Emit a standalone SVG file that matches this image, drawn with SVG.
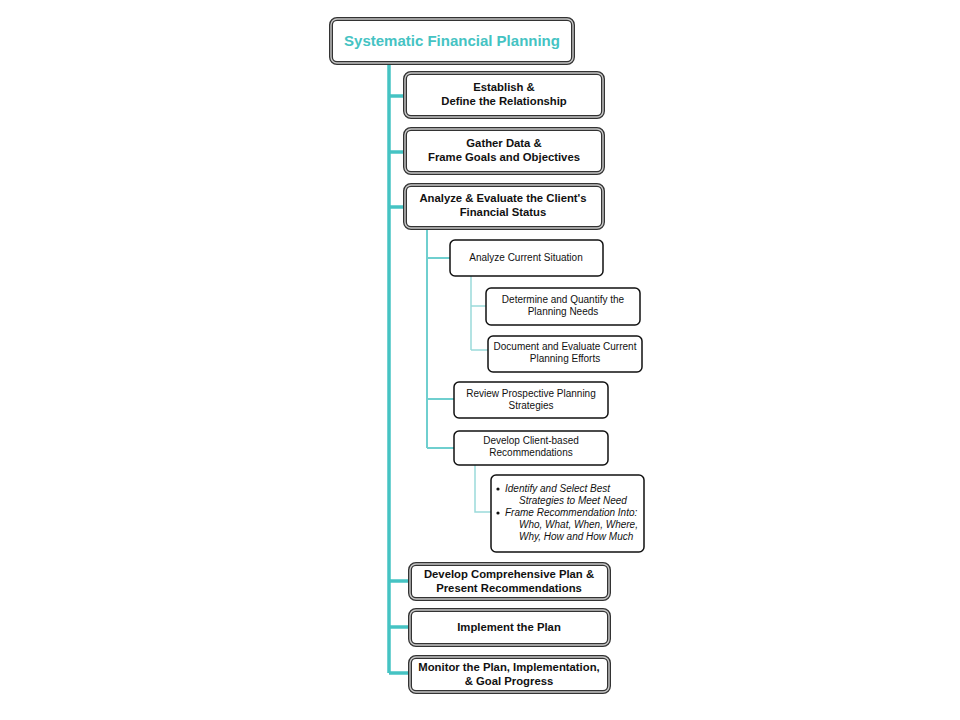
<svg xmlns="http://www.w3.org/2000/svg" width="960" height="720" viewBox="0 0 960 720">
<style>
.dbl{fill:#fff;stroke:#333;stroke-width:4}
.dbl2{fill:none;stroke:#c8c8c8;stroke-width:1.4}
.sgl{fill:#fff;stroke:#111;stroke-width:1.5}
.tb{font-family:"Liberation Sans",Arial,sans-serif;font-weight:bold;font-size:11.3px;fill:#111;text-anchor:middle}
.tr{font-family:"Liberation Sans",Arial,sans-serif;font-size:10px;fill:#111;text-anchor:middle}
.ti{font-family:"Liberation Sans",Arial,sans-serif;font-size:10px;font-style:italic;fill:#111}
.title{font-family:"Liberation Sans",Arial,sans-serif;font-weight:bold;font-size:15px;fill:#45c3c3;text-anchor:middle}
.main{stroke:#45c3c3;stroke-width:3.5;fill:none}
.sub{stroke:#6fcfcf;stroke-width:2;fill:none}
.sub2{stroke:#9adada;stroke-width:1.5;fill:none}
</style>
<rect width="960" height="720" fill="#fff"/>
<g id="connectors">
<path class="main" d="M389 63 V673 M389 96 H405 M389 152 H405 M389 207 H405 M389 581 H410 M389 627 H410 M389 673 H410"/>
<path class="sub" d="M427 228 V448 M427 258 H450 M427 399 H454 M427 448 H454"/>
<path class="sub2" d="M471 276 V350 M471 306 H486 M471 350 H488 M475 465 V512 H491"/>
</g>
<g id="n0">
<rect class="dbl" x="331" y="19" width="242" height="44" rx="6"/>
<rect class="dbl2" x="331" y="19" width="242" height="44" rx="6"/>
<text class="title" x="452" y="46">Systematic Financial Planning</text>
</g>
<g id="n1">
<rect class="dbl" x="405" y="73" width="198" height="44" rx="6"/>
<rect class="dbl2" x="405" y="73" width="198" height="44" rx="6"/>
<text class="tb" x="504" y="91">Establish &amp;</text>
<text class="tb" x="504" y="105">Define the Relationship</text>
</g>
<g id="n2">
<rect class="dbl" x="405" y="129" width="198" height="44" rx="6"/>
<rect class="dbl2" x="405" y="129" width="198" height="44" rx="6"/>
<text class="tb" x="504" y="147">Gather Data &amp;</text>
<text class="tb" x="504" y="161">Frame Goals and Objectives</text>
</g>
<g id="n3">
<rect class="dbl" x="405" y="185" width="198" height="43" rx="6"/>
<rect class="dbl2" x="405" y="185" width="198" height="43" rx="6"/>
<text class="tb" x="503" y="202">Analyze &amp; Evaluate the Client's</text>
<text class="tb" x="503" y="216">Financial Status</text>
</g>
<g id="n4">
<rect class="sgl" x="450" y="240" width="153" height="36" rx="5"/>
<text class="tr" x="526" y="261">Analyze Current Situation</text>
</g>
<g id="n5">
<rect class="sgl" x="486" y="288" width="154" height="37" rx="5"/>
<text class="tr" x="563" y="303">Determine and Quantify the</text>
<text class="tr" x="563" y="315">Planning Needs</text>
</g>
<g id="n6">
<rect class="sgl" x="488" y="336" width="154" height="36" rx="5"/>
<text class="tr" x="565" y="350">Document and Evaluate Current</text>
<text class="tr" x="565" y="362">Planning Efforts</text>
</g>
<g id="n7">
<rect class="sgl" x="454" y="382" width="154" height="36" rx="5"/>
<text class="tr" x="531" y="397">Review Prospective Planning</text>
<text class="tr" x="531" y="409">Strategies</text>
</g>
<g id="n8">
<rect class="sgl" x="454" y="431" width="154" height="34" rx="5"/>
<text class="tr" x="531" y="444">Develop Client-based</text>
<text class="tr" x="531" y="456">Recommendations</text>
</g>
<g id="n9">
<rect class="sgl" x="491" y="475" width="153" height="77" rx="5"/>
<circle cx="498" cy="489" r="1.6" fill="#111"/>
<circle cx="498" cy="513" r="1.6" fill="#111"/>
<text class="ti" x="505" y="492">Identify and Select Best</text>
<text class="ti" x="519" y="504">Strategies to Meet Need</text>
<text class="ti" x="505" y="516">Frame Recommendation Into:</text>
<text class="ti" x="519" y="528">Who, What, When, Where,</text>
<text class="ti" x="519" y="540">Why, How and How Much</text>
</g>
<g id="n10">
<rect class="dbl" x="410" y="564" width="199" height="35" rx="6"/>
<rect class="dbl2" x="410" y="564" width="199" height="35" rx="6"/>
<text class="tb" x="509" y="578">Develop Comprehensive Plan &amp;</text>
<text class="tb" x="509" y="592">Present Recommendations</text>
</g>
<g id="n11">
<rect class="dbl" x="410" y="610" width="199" height="35" rx="6"/>
<rect class="dbl2" x="410" y="610" width="199" height="35" rx="6"/>
<text class="tb" x="509" y="631">Implement the Plan</text>
</g>
<g id="n12">
<rect class="dbl" x="410" y="657" width="199" height="35" rx="6"/>
<rect class="dbl2" x="410" y="657" width="199" height="35" rx="6"/>
<text class="tb" x="509" y="671">Monitor the Plan, Implementation,</text>
<text class="tb" x="509" y="685">&amp; Goal Progress</text>
</g>
</svg>
